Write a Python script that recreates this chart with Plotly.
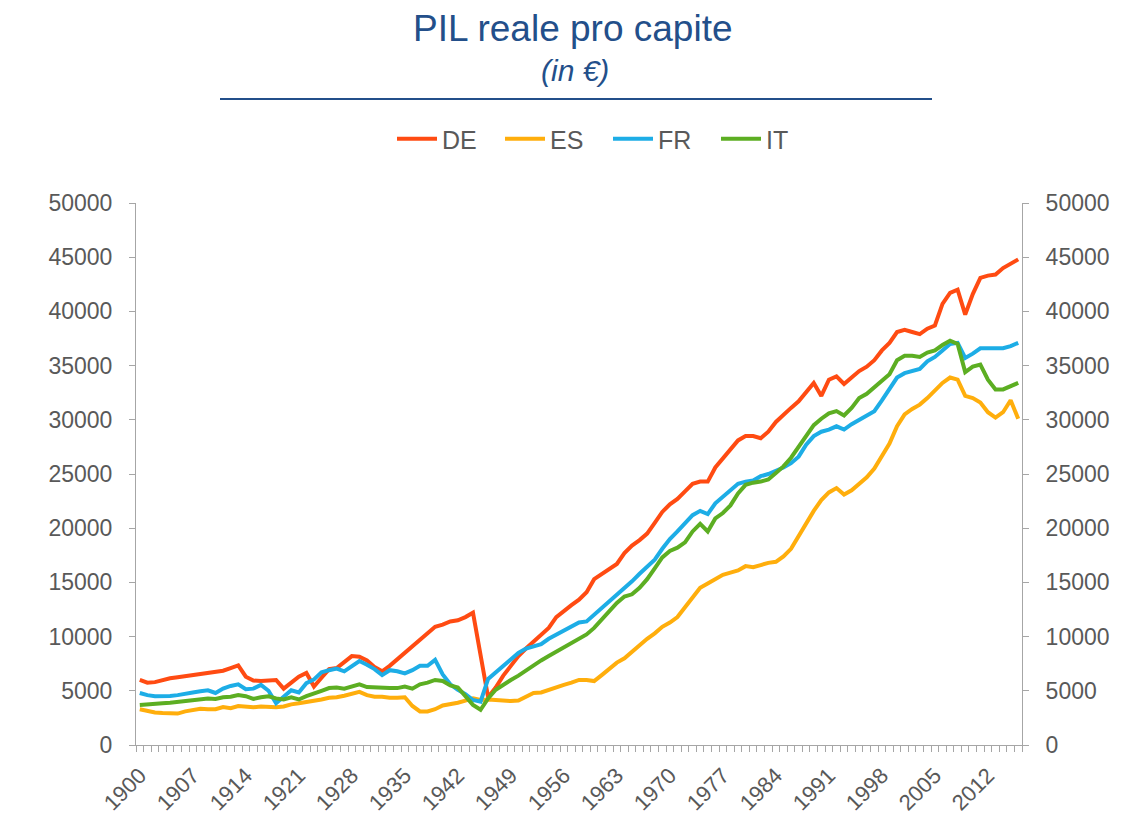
import plotly.graph_objects as go

years = list(range(1900, 2017))

DE = [6000, 5750, 5800, 6000, 6150, 6250, 6350, 6450, 6500, 6600,
      6700, 6850, 7100, 7350, 6300, 5950, 5900, 5950, 6000, 5200,
      5700, 6300, 6650, 5400, 6200, 7000, 7100, 7700, 8200, 8150,
      7800, 7200, 6800, 7300, 7900, 8500, 9100, 9700, 10300, 10900,
      11100, 11400, 11500, 11800, 12200, 8300, 4400, 5300, 6400, 7300,
      8200, 8900, 9500, 10100, 10800, 11800, 12400, 12900, 13400, 14100,
      15300, 15800, 16300, 16700, 17700, 18400, 18900, 19500, 20500, 21500,
      22200, 22700, 23400, 24100, 24300, 24300, 25600, 26400, 27200, 28100,
      28500, 28500, 28300, 28900, 29800, 30500, 31100, 31700, 32500, 33400,
      32200, 33700, 34000, 33300, 33900, 34500, 34900, 35500, 36400, 37100,
      38100, 38300, 38100, 37900, 38400, 38700, 40700, 41700, 42000, 39700,
      41600, 43100, 43300, 43400, 44000, 44400, 44800]

ES = [3300, 3150, 3000, 2950, 2880, 2900, 3100, 3200, 3350, 3300,
      3300, 3500, 3400, 3600, 3500, 3480, 3550, 3500, 3480, 3550,
      3750, 3850, 3950, 4100, 4200, 4350, 4400, 4550, 4700, 4900,
      4600, 4450, 4450, 4350, 4350, 4400, 3600, 3100, 3100, 3300,
      3650, 3750, 3900, 4100, 4300, 4150, 4200, 4150, 4100, 4050,
      4100, 4500, 4800, 4850, 5100, 5300, 5550, 5750, 6000, 6000,
      5900, 6450, 7000, 7600, 8000, 8600, 9300, 9800, 10300, 10900,
      11300, 11800, 12700, 13600, 14500, 14900, 15300, 15700, 15900, 16100,
      16500, 16400, 16600, 16800, 16900, 17400, 18100, 19300, 20400, 21600,
      22600, 23300, 23700, 23100, 23500, 24100, 24700, 25500, 26600, 27800,
      29400, 30500, 31000, 31400, 32000, 32700, 33400, 33900, 33700, 32200,
      32000, 31600, 30700, 30200, 30700, 31800, 30100]

FR = [4800, 4600, 4500, 4480, 4520, 4600, 4750, 4850, 4950, 5050,
      4800, 5200, 5450, 5600, 5150, 5200, 5550, 5000, 3850, 4500,
      5050, 4850, 5700, 6050, 6700, 6900, 7050, 6800, 7300, 7750,
      7400, 7000, 6450, 6900, 6800, 6600, 6900, 7300, 7300, 7850,
      6500, 5600, 5100, 4700, 4150, 4000, 6100, 6700, 7200, 7900,
      8500, 8900, 9100, 9300, 9800, 10200, 10600, 11000, 11300, 11400,
      12000, 12600, 13200, 13800, 14500, 15100, 15800, 16500, 17100, 18100,
      19000, 19700, 20400, 21200, 21600, 21300, 22300, 22900, 23500, 24100,
      24300, 24400, 24800, 25000, 25300, 25600, 26000, 26600, 27700, 28500,
      28900, 29100, 29400, 29100, 29600, 30000, 30300, 30800, 31800, 32900,
      33900, 34300, 34500, 34700, 35400, 35800, 36400, 37000, 37100, 35700,
      36100, 36600, 36600, 36600, 36600, 36800, 37100]

IT = [3700, 3780, 3820, 3850, 3900, 3980, 4050, 4100, 4200, 4300,
      4250, 4400, 4450, 4600, 4500, 4250, 4400, 4500, 4300, 4200,
      4400, 4200, 4500, 4800, 5000, 5250, 5300, 5200, 5400, 5600,
      5350, 5300, 5300, 5250, 5250, 5400, 5200, 5600, 5750, 6000,
      5900, 5500, 5300, 4500, 3700, 3250, 4300, 5100, 5600, 6000,
      6400, 6900, 7300, 7800, 8200, 8600, 8950, 9300, 9750, 10200,
      10800, 11600, 12400, 13100, 13700, 13900, 14500, 15300, 16300, 17300,
      17900, 18200, 18700, 19700, 20400, 19700, 20900, 21400, 22100, 23200,
      24000, 24200, 24300, 24500, 25100, 25700, 26500, 27500, 28500, 29500,
      30100, 30600, 30800, 30400, 31100, 32000, 32400, 33000, 33600, 34200,
      35500, 35900, 35900, 35800, 36200, 36400, 36900, 37300, 37000, 34400,
      34900, 35100, 33700, 32800, 32800, 33100, 33400]

series = [("DE", DE, "#FF4B12"), ("ES", ES, "#FFAE0C"),
          ("FR", FR, "#1DADE6"), ("IT", IT, "#5CAE22")]

x_tick_years = list(range(1900, 2017, 7))
y_ticks = list(range(0, 50001, 5000))

title_text = "PIL reale pro capite"
subtitle_text = "<i>(in €)</i>"

grey = "#595959"
axis_col = "#A6A6A6"
navy = "#234F8A"
FONT = "Liberation Sans, Arial"

# page body adds an 8px offset; layout numbers below are in figure pixels
OFF = 8
L, R, T, B = 136 - OFF, 1146 - (1022 - OFF), 203 - OFF, 821 - (745 - OFF)
W_plot = 1146 - L - R
H_plot = 821 - T - B

def pxx(px):
    return (px - OFF - L) / W_plot

def py(px):
    return (821 - B - (px - OFF)) / H_plot

fig = go.Figure()
for name, vals, col in series:
    fig.add_trace(go.Scatter(x=years, y=vals, name=name, mode="lines",
                             line=dict(color=col, width=4)))
# reference trace for right axis
fig.add_trace(go.Scatter(x=[years[0]], y=[None], yaxis="y2", showlegend=False,
                         hoverinfo="skip", mode="lines"))

yaxis_common = dict(range=[0, 50000], tickmode="array", tickvals=y_ticks,
                    ticktext=[str(v) for v in y_ticks], showgrid=False,
                    zeroline=False, showline=True, linecolor=axis_col,
                    linewidth=1, ticks="outside", ticklen=6, tickcolor=axis_col,
                    tickfont=dict(family=FONT, size=23, color=grey),
                    ticklabelstandoff=12)

fig.update_layout(
    width=1146, height=821,
    margin=dict(l=L, r=R, t=T, b=B, autoexpand=False),
    paper_bgcolor="white", plot_bgcolor="white",
    font=dict(family=FONT, color=grey),
    showlegend=True,
    legend=dict(orientation="h", x=pxx(608), xanchor="center", y=py(139), yanchor="middle",
                font=dict(size=25, color=grey), entrywidth=53,
                itemwidth=40),
    xaxis=dict(range=[1899.5, 2016.5], tickmode="array", tickvals=x_tick_years,
               ticktext=[str(y) for y in x_tick_years], tickangle=-45,
               showgrid=False, zeroline=False, showline=True, linecolor=axis_col,
               ticks="", tickfont=dict(family=FONT, size=22, color=grey),
               ticklabelstandoff=8,
               minor=dict(ticks="outside", tickmode="linear", tick0=1899.5, dtick=1,
                          ticklen=6, tickcolor=axis_col, showgrid=False)),
    yaxis=dict(**yaxis_common, side="left"),
    yaxis2=dict(**yaxis_common, side="right", overlaying="y"),
    annotations=[
        dict(text=title_text, x=pxx(573), y=py(28), xref="paper", yref="paper",
             xanchor="center", yanchor="middle", showarrow=False,
             font=dict(size=37, color=navy)),
        dict(text=subtitle_text, x=pxx(575), y=py(70), xref="paper", yref="paper",
             xanchor="center", yanchor="middle", showarrow=False,
             font=dict(size=30, color=navy)),
    ],
)

fig.add_shape(type="line", xref="paper", yref="paper", x0=pxx(220), x1=pxx(932),
              y0=py(99), y1=py(99), line=dict(color=navy, width=2))

fig.write_html("out.html")
